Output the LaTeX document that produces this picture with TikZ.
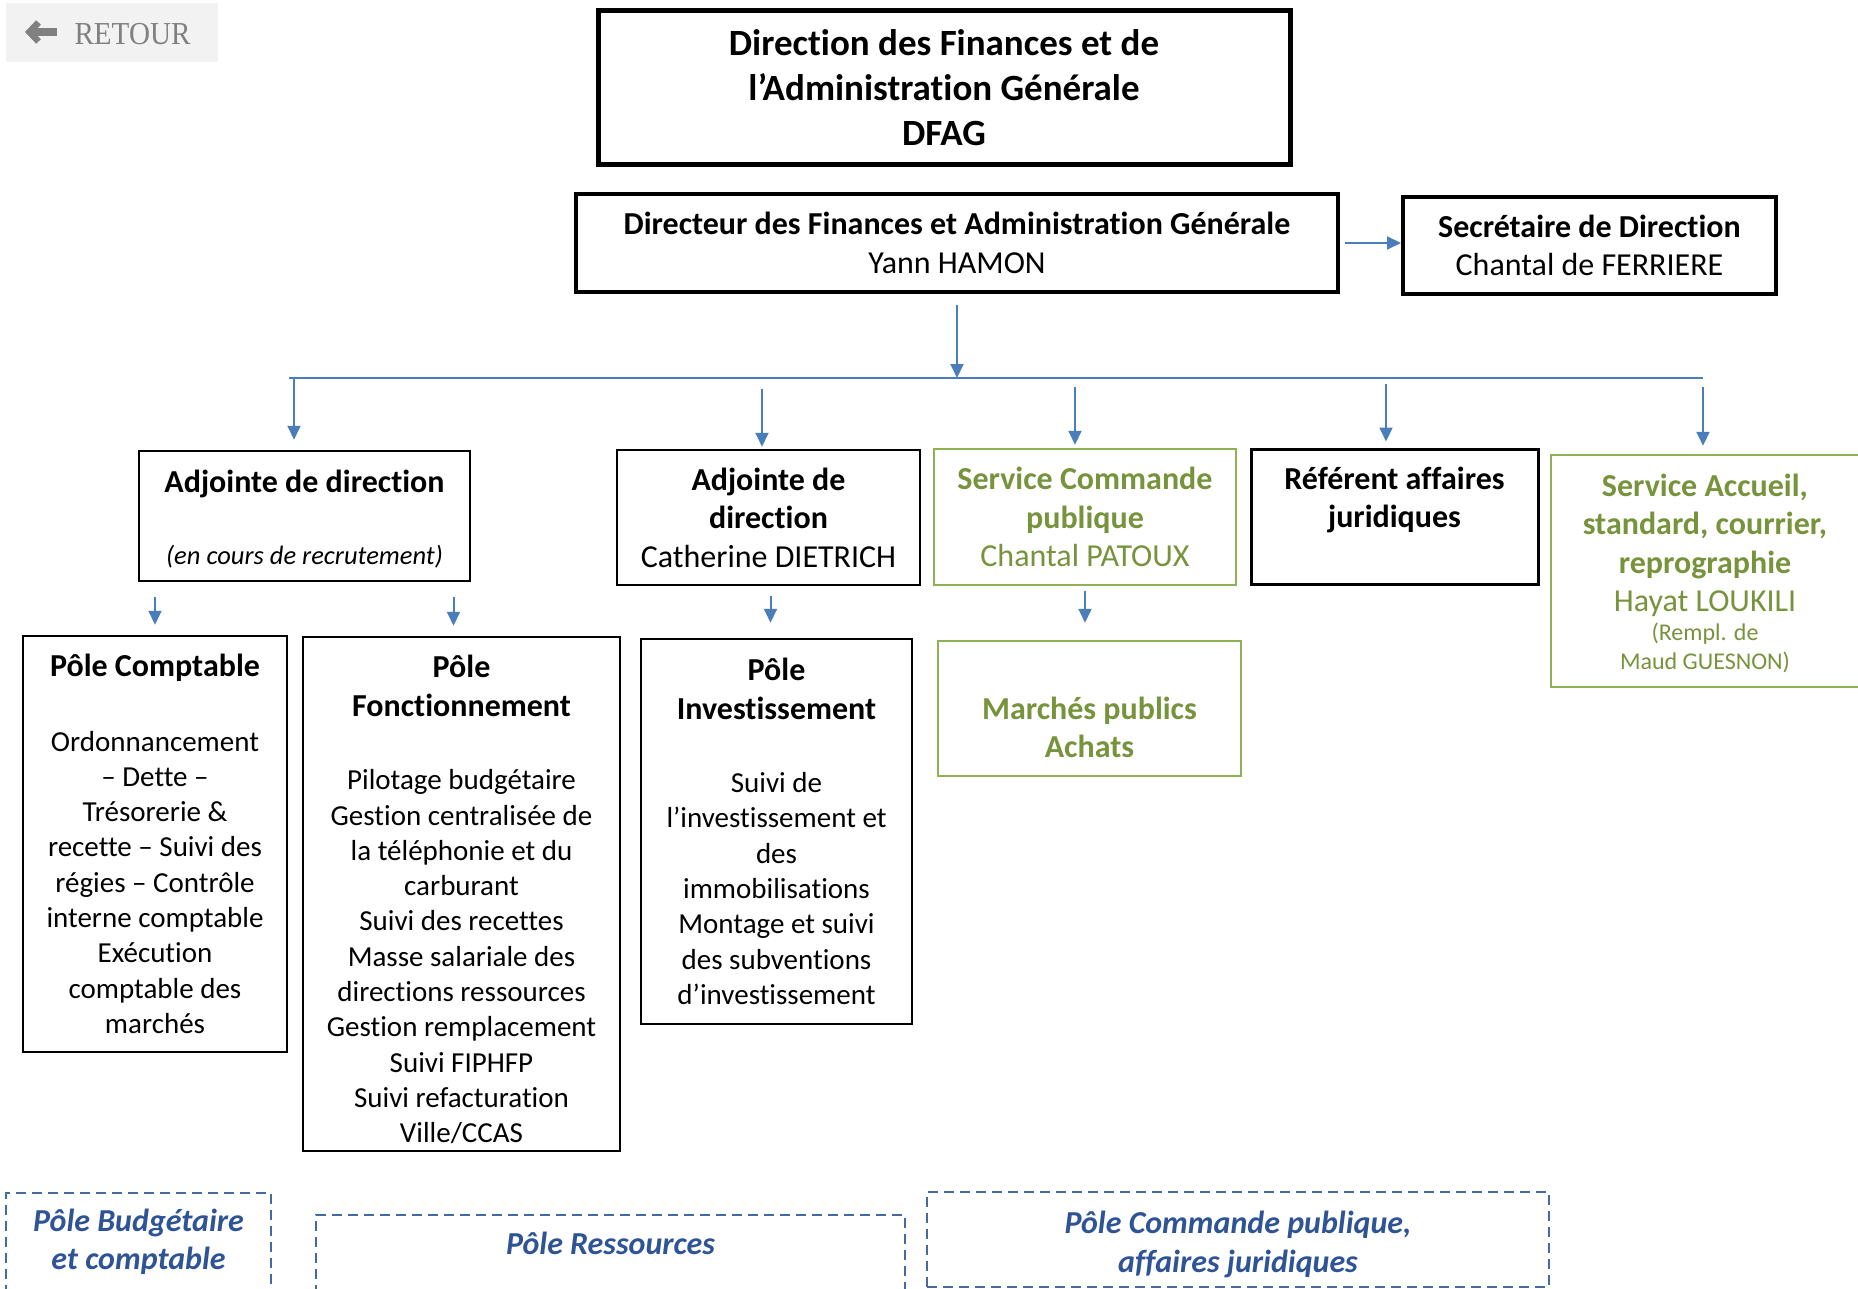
\documentclass[tikz,border=0pt]{standalone}
\usepackage{fontspec}
\usepackage{graphicx}
\setmainfont[Ligatures=NoCommon]{Carlito}
\newfontfamily\retourfont{Liberation Serif}
\usetikzlibrary{arrows.meta}

\definecolor{flecheblue}{RGB}{74,126,187}
\definecolor{vertservice}{RGB}{119,147,60}
\definecolor{vertcadre}{RGB}{143,177,84}
\definecolor{polebleu}{RGB}{47,84,150}
\definecolor{tiretbleu}{RGB}{68,106,160}
\definecolor{boutonfond}{RGB}{242,242,242}
\definecolor{boutongris}{RGB}{128,128,128}

\newcommand{\ftitre}{\fontsize{37}{45}\selectfont\bfseries}
\newcommand{\fchef}{\fontsize{32}{38.5}\selectfont}
\newcommand{\fentete}{\fontsize{32}{39}\selectfont\bfseries}
\newcommand{\fcorps}{\fontsize{29}{35.3}\selectfont}
\newcommand{\fpetit}{\fontsize{24}{29}\selectfont}
\newcommand{\fital}{\fontsize{26.5}{31}\selectfont\itshape}

\begin{document}
\begin{tikzpicture}[x=1pt,y=-1pt,
    cadre/.style={draw=black, line width=2.5, align=center, inner sep=0pt},
    cadrevert/.style={draw=vertcadre, line width=2.5, text=vertservice, align=center, inner sep=0pt},
    cadretiret/.style={draw=tiretbleu, line width=2, dash pattern=on 10pt off 6pt, text=polebleu,
        align=center, inner sep=0pt, font=\fchef\bfseries\itshape},
    fleche/.style={draw=flecheblue, line width=2, -{Triangle[length=14pt,width=13pt]}}]
    \path[use as bounding box] (0,0) rectangle (1858,1289);
    \clip (0,0) rectangle (1858,1289);
    \fill[white] (0,0) rectangle (1858,1289);

    % bouton retour
    \node[fill=boutonfond, minimum width=212, minimum height=59, inner sep=0pt] (retour) at (112,32.5) {};
    \draw[boutongris, line width=6.5] (38.5,22.5) -- (29.5,32) -- (38.5,41.5);
    \draw[boutongris, line width=7.5] (32,32) -- (57,32);
    \node[text=boutongris, font=\retourfont\fontsize{32}{36}\selectfont, inner sep=0pt] (retourtxt) at (132.5,34)
        {\scalebox{0.91}[1]{RETOUR}};

    % direction
    \node[cadre, line width=5, minimum width=692, minimum height=154, font=\ftitre] (dfag) at (944,88)
        {Direction des Finances et de\\l’Administration Générale\\DFAG};
    \node[cadre, line width=4, minimum width=762, minimum height=98, font=\fchef] (dir) at (957,243)
        {{\bfseries Directeur des Finances et Administration Générale}\\Yann HAMON};
    \node[cadre, line width=4, minimum width=373, minimum height=97, font=\fchef] (sec) at (1589.5,245.5)
        {{\bfseries Secrétaire de Direction}\\Chantal de FERRIERE};

    % adjoints et services
    \node[cadre, minimum width=331, minimum height=130, font=\fchef] (adjA) at (304.5,516)
        {\rule{0pt}{29pt}{\bfseries Adjointe de direction}\\[33pt]{\fital (en cours de recrutement)}};
    \node[cadre, minimum width=303, minimum height=135, font=\fchef] (adjB) at (768.5,517.5)
        {{\bfseries Adjointe de}\\{\bfseries direction}\\Catherine DIETRICH};
    \node[cadrevert, minimum width=302, minimum height=136, font=\fchef] (cmd) at (1085,517)
        {{\bfseries Service Commande}\\{\bfseries publique}\\Chantal PATOUX};
    \node[cadre, line width=3, minimum width=287, minimum height=135, font=\fchef] (ref) at (1394.5,516.5)
        {{\bfseries Référent affaires}\\{\bfseries juridiques}\\\mbox{}};
    \node[cadrevert, minimum width=308, minimum height=232, font=\fchef] (acc) at (1705,571)
        {\rule{0pt}{27pt}{\bfseries Service Accueil,}\\{\bfseries standard, courrier,}\\{\bfseries reprographie}\\Hayat LOUKILI\\[-9.5pt]{\fpetit (Rempl. de}\\[-9.5pt]{\fpetit Maud GUESNON)}};

    % poles
    \node[cadre, minimum width=264, minimum height=416, font=\fcorps] (pComp) at (155,844)
        {{\fentete Pôle Comptable}\\[39pt]Ordonnancement\\– Dette –\\Trésorerie \&\\recette – Suivi des\\régies – Contrôle\\interne comptable\\Exécution\\comptable des\\marchés};
    \node[cadre, minimum width=317, minimum height=514, font=\fcorps] (pFonct) at (461.5,894)
        {\rule{0pt}{34pt}{\fentete Pôle}\\[3.7pt]{\fentete Fonctionnement}\\[37.5pt]Pilotage budgétaire\\Gestion centralisée de\\la téléphonie et du\\carburant\\Suivi des recettes\\Masse salariale des\\directions ressources\\Gestion remplacement\\Suivi FIPHFP\\Suivi refacturation\\Ville/CCAS};
    \node[cadre, minimum width=271, minimum height=385, font=\fcorps] (pInv) at (776.5,831.5)
        {{\fentete Pôle}\\[3.7pt]{\fentete Investissement}\\[37.5pt]Suivi de\\l’investissement et\\des\\immobilisations\\Montage et suivi\\des subventions\\d’investissement};
    \node[cadrevert, minimum width=303, minimum height=135, font=\fchef\bfseries] (march) at (1089.5,708.5)
        {\rule{0pt}{22pt}\\Marchés publics\\Achats};

    % regroupements
    \node[cadretiret, minimum width=265, minimum height=98] (dBud) at (138.5,1242)
        {Pôle Budgétaire\\et comptable};
    \node[cadretiret, minimum width=589, minimum height=96] (dRes) at (610.5,1263)
        {Pôle Ressources\\\mbox{}};
    \node[cadretiret, minimum width=622, minimum height=95] (dCmd) at (1238,1239.5)
        {\rule{0pt}{32pt}Pôle Commande publique,\\affaires juridiques};

    % liaisons
    \coordinate (busL) at (289,378);
    \coordinate (busR) at (1703,378);
    \coordinate (d1) at (294,378);
    \coordinate (d2) at (762,378);
    \coordinate (d3) at (1075,378);
    \coordinate (d4) at (1386,378);
    \coordinate (d5) at (1703,378);
    \draw[fleche] ([xshift=5]dir.east) -- (dir.east -| sec.west);
    \draw[fleche, shorten <=11pt] (dir.south) -- (dir.south |- busL);
    \draw[draw=flecheblue, line width=2] (busL) -- (busR);
    \draw[fleche, shorten >=10pt] (d1) -- (d1 |- adjA.north);
    \draw[fleche, shorten <=11pt, shorten >=2pt] (d2) -- (d2 |- adjB.north);
    \draw[fleche, shorten <=9pt, shorten >=3pt] (d3) -- (d3 |- cmd.north);
    \draw[fleche, shorten <=6pt, shorten >=6pt] (d4) -- (d4 |- ref.north);
    \draw[fleche, shorten <=9pt, shorten >=8pt] (d5) -- (d5 |- acc.north);
    \draw[fleche, shorten <=15pt, shorten >=10pt] (pComp.north |- adjA.south) -- (pComp.north);
    \draw[fleche, shorten <=15pt, shorten >=10pt] ([xshift=-8]pFonct.north |- adjA.south) -- ([xshift=-8]pFonct.north);
    \draw[fleche, shorten <=10pt, shorten >=15pt] ([xshift=2]adjB.south) -- ([xshift=2]adjB.south |- pInv.north);
    \draw[fleche, shorten <=5pt, shorten >=17pt] (cmd.south) -- (cmd.south |- march.north);
\end{tikzpicture}
\end{document}
